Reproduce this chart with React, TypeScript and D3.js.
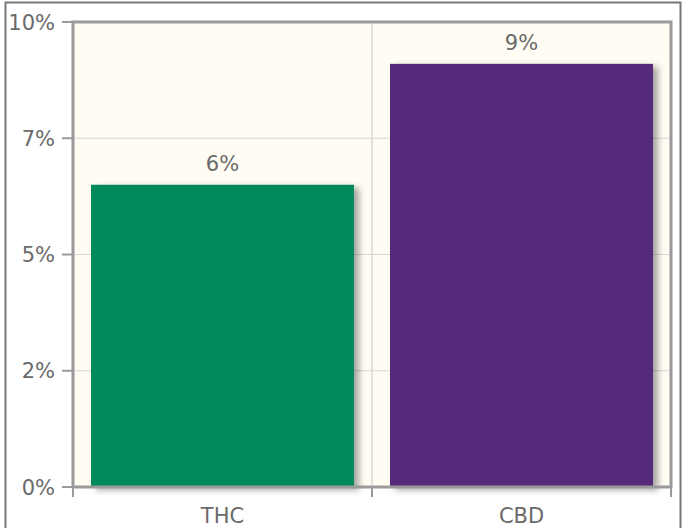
import { useEffect, useRef } from 'react';
import * as d3 from 'd3';

const categories = ['THC', 'CBD'];
const values = [6.5, 9.1];
const colors = ['#00895a', '#552b7a'];
const yTicks = [0, 2.5, 5, 7.5, 10];

const W = 682;
const H = 528;

export default function App() {
  const svgRef = useRef<SVGSVGElement>(null);
  const margin = { top: 22, right: 11, bottom: 41, left: 73 };

  useEffect(() => {
    if (!svgRef.current) return;
    const root = d3.select(svgRef.current);
    root.selectAll('*').remove();

    const innerWidth = W - margin.left - margin.right;
    const innerHeight = H - margin.top - margin.bottom;
    const fmt = (v: number) => `${Math.floor(v)}%`;
    const font = '"DejaVu Sans", sans-serif';

    // 外框
    root
      .append('rect')
      .attr('x', 5.5)
      .attr('y', 2.5)
      .attr('width', W - 7)
      .attr('height', H + 10)
      .attr('fill', 'none')
      .attr('stroke', '#777')
      .attr('stroke-width', 2);

    const defs = root.append('defs');
    const filter = defs.append('filter').attr('id', 'shadow').attr('x', '-10%').attr('y', '-10%').attr('width', '130%').attr('height', '130%');
    filter
      .append('feDropShadow')
      .attr('dx', 5)
      .attr('dy', 3)
      .attr('stdDeviation', 3)
      .attr('flood-color', '#000')
      .attr('flood-opacity', 0.35);

    const svg = root.append('g').attr('transform', `translate(${margin.left},${margin.top})`);

    const x = d3.scaleBand().domain(categories).range([0, innerWidth]).paddingInner(0).paddingOuter(0);
    const y = d3.scaleLinear().domain([0, 10]).range([innerHeight, 0]);

    svg.append('rect').attr('width', innerWidth).attr('height', innerHeight).attr('fill', '#fffcf3');

    // 网格线
    svg
      .selectAll('.hgrid')
      .data(yTicks)
      .join('line')
      .attr('x1', 0)
      .attr('x2', innerWidth)
      .attr('y1', (d) => y(d))
      .attr('y2', (d) => y(d))
      .attr('stroke', '#d8d8d8')
      .attr('stroke-width', 1);

    svg
      .selectAll('.vgrid')
      .data(categories.slice(1))
      .join('line')
      .attr('x1', (d) => x(d)!)
      .attr('x2', (d) => x(d)!)
      .attr('y1', 0)
      .attr('y2', innerHeight)
      .attr('stroke', '#d8d8d8')
      .attr('stroke-width', 1.5);

    // 柱子
    const pad = 18;
    svg
      .selectAll('.bar')
      .data(categories)
      .join('rect')
      .attr('x', (d) => x(d)! + pad)
      .attr('y', (_, i) => y(values[i]))
      .attr('width', x.bandwidth() - pad * 2)
      .attr('height', (_, i) => innerHeight - y(values[i]))
      .attr('fill', (_, i) => colors[i])
      .attr('filter', 'url(#shadow)');

    svg
      .selectAll('.val')
      .data(categories)
      .join('text')
      .attr('x', (d) => x(d)! + x.bandwidth() / 2)
      .attr('y', (_, i) => y(values[i]) - 14)
      .attr('text-anchor', 'middle')
      .attr('font-family', font)
      .attr('font-size', 21)
      .attr('fill', '#6a6a6a')
      .text((_, i) => fmt(values[i]));

    // 边框
    svg
      .append('rect')
      .attr('width', innerWidth)
      .attr('height', innerHeight)
      .attr('fill', 'none')
      .attr('stroke', '#9a9a9a')
      .attr('stroke-width', 3);

    // y 轴
    svg
      .selectAll('.ytick')
      .data(yTicks)
      .join('line')
      .attr('x1', -11)
      .attr('x2', 0)
      .attr('y1', (d) => y(d))
      .attr('y2', (d) => y(d))
      .attr('stroke', '#9a9a9a')
      .attr('stroke-width', 2);

    svg
      .selectAll('.ylab')
      .data(yTicks)
      .join('text')
      .attr('x', -18)
      .attr('y', (d) => y(d))
      .attr('dy', '0.36em')
      .attr('text-anchor', 'end')
      .attr('font-family', font)
      .attr('font-size', 21)
      .attr('fill', '#6a6a6a')
      .text((d) => fmt(d));

    // x 轴
    const xEdges = [0, ...categories.slice(1).map((c) => x(c)!), innerWidth];
    svg
      .selectAll('.xtick')
      .data(xEdges)
      .join('line')
      .attr('x1', (d) => d)
      .attr('x2', (d) => d)
      .attr('y1', innerHeight)
      .attr('y2', innerHeight + 10)
      .attr('stroke', '#9a9a9a')
      .attr('stroke-width', 2);

    svg
      .selectAll('.xlab')
      .data(categories)
      .join('text')
      .attr('x', (d) => x(d)! + x.bandwidth() / 2)
      .attr('y', innerHeight + 36)
      .attr('text-anchor', 'middle')
      .attr('font-family', font)
      .attr('font-size', 21)
      .attr('fill', '#6a6a6a')
      .text((d) => d);
  }, []);

  return (
    <svg
      ref={svgRef}
      width={W}
      height={H}
      style={{ position: 'absolute', left: 0, top: 0, display: 'block' }}
    />
  );
}
